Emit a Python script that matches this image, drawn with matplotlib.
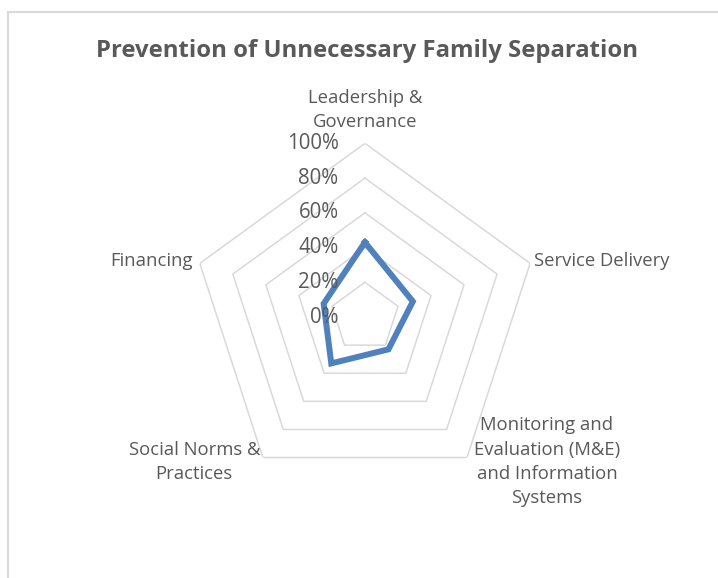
import numpy as np
import matplotlib.pyplot as plt
import matplotlib
from matplotlib.patches import Rectangle

matplotlib.rcParams['font.family'] = ['Open Sans', 'DejaVu Sans']

# Prevention of Unnecessary Family Separation
categories = ['Leadership &\nGovernance', 'Service Delivery',
              'Monitoring and\nEvaluation (M&E)\nand Information\nSystems',
              'Social Norms &\nPractices', 'Financing']
values = [0.43, 0.29, 0.23, 0.33, 0.25]
levels = [0.2, 0.4, 0.6, 0.8, 1.0]
level_labels = ['0%', '20%', '40%', '60%', '80%', '100%']

txt_color = '#595959'
grid_color = '#d9d9d9'
line_color = '#4f81bd'

fig = plt.figure(figsize=(7.18, 5.78), dpi=100)

# chart area border (runs off the right and bottom edge)
fig.patches.append(Rectangle((7.5 / 718, -0.05), 1.0, 1 - 11.5 / 578 + 0.05,
                             transform=fig.transFigure, fill=False,
                             ec='#d9d9d9', lw=1.5))

ax = fig.add_axes([0.2664, 0.151, 0.4838, 0.601], projection='polar')
ax.set_theta_offset(np.pi / 2)
ax.set_theta_direction(-1)
ax.set_ylim(0, 1)
ax.grid(False)
ax.spines['polar'].set_visible(False)
ax.set_xticks([])
ax.set_yticks([])
ax.patch.set_alpha(0)

n = len(categories)
theta = np.linspace(0, 2 * np.pi, n, endpoint=False)
theta_c = np.append(theta, theta[0])

# pentagon grid
for lv in levels:
    ax.plot(theta_c, [lv] * (n + 1), color=grid_color, lw=1.1, zorder=1)

# radial labels
for lv, lab in zip([0.0] + levels, level_labels):
    ax.annotate(lab, xy=(0, lv), xytext=(-19, 0), textcoords='offset points',
                ha='right', va='center', fontsize=14.8, color=txt_color,
                zorder=3)

# data
vals = values + values[:1]
ax.plot(theta_c, vals, color=line_color, lw=4.3, solid_joinstyle='miter',
        zorder=2)

# category labels
offsets = [(0, 9, 'center', 'bottom'), (3, 2, 'left', 'center'),
           (5, -3, 'left', 'center'), (-2, -3, 'right', 'center'),
           (-5, 2, 'right', 'center')]
for t, lab, (dx, dy, ha, va) in zip(theta, categories, offsets):
    ax.annotate(lab, xy=(t, 1.0), xytext=(dx, dy), textcoords='offset points',
                ha=ha, va=va, multialignment='center', fontsize=13.3,
                color=txt_color, linespacing=1.45, annotation_clip=False)

fig.text(0.511, 1 - 51 / 578, 'Prevention of Unnecessary Family Separation',
         ha='center', va='center', fontsize=17.2, fontweight='bold',
         color=txt_color)

plt.savefig('out.png', dpi=100)
